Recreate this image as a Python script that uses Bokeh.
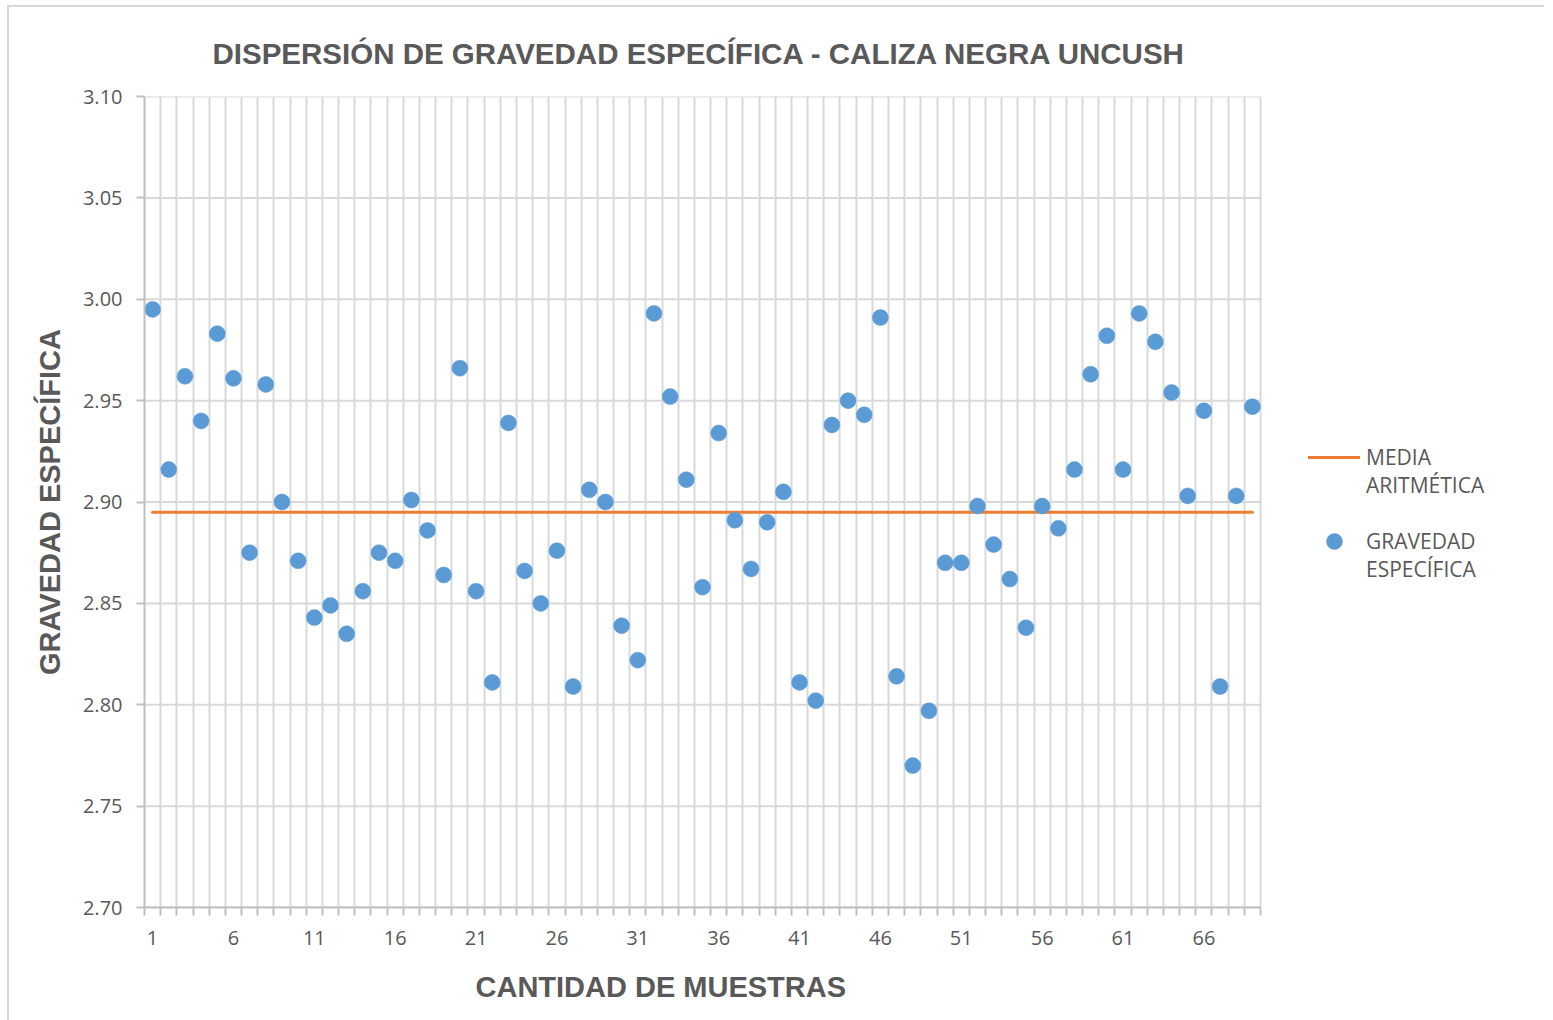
from bokeh.plotting import figure
from bokeh.models import (FixedTicker, Legend, LegendItem, Range1d, ColumnDataSource,
                          NumeralTickFormatter, Title)
from bokeh.embed import file_html
from bokeh.resources import INLINE

# ---- data ----
muestras = list(range(1, 70))
gravedad = [
    2.995, 2.916, 2.962, 2.940, 2.983, 2.961, 2.875, 2.958, 2.900, 2.871,
    2.843, 2.849, 2.835, 2.856, 2.875, 2.871, 2.901, 2.886, 2.864, 2.966,
    2.856, 2.811, 2.939, 2.866, 2.850, 2.876, 2.809, 2.906, 2.900, 2.839,
    2.822, 2.993, 2.952, 2.911, 2.858, 2.934, 2.891, 2.867, 2.890, 2.905,
    2.811, 2.802, 2.938, 2.950, 2.943, 2.991, 2.814, 2.770, 2.797, 2.870,
    2.870, 2.898, 2.879, 2.862, 2.838, 2.898, 2.887, 2.916, 2.963, 2.982,
    2.916, 2.993, 2.979, 2.954, 2.903, 2.945, 2.809, 2.903, 2.947,
]
media_aritmetica = 2.895
x_label_ticks = [1, 6, 11, 16, 21, 26, 31, 36, 41, 46, 51, 56, 61, 66]
y_ticks = [2.70, 2.75, 2.80, 2.85, 2.90, 2.95, 3.00, 3.05, 3.10]
legend_labels = ["MEDIA\nARITMÉTICA", "GRAVEDAD\nESPECÍFICA"]
x_title = "CANTIDAD DE MUESTRAS"
y_title = "GRAVEDAD ESPECÍFICA"
main_title = "DISPERSIÓN DE GRAVEDAD ESPECÍFICA - CALIZA NEGRA UNCUSH"

TEXT = "#595959"
GRID = "#d9d9d9"
AX = "#bfbfbf"

# layout: plotting area is 1116 px for the 69 samples; the frame continues to the
# right so that the legend can sit beside the data (grid/axis are bounded).
PLOT_W = 1116
FRAME_W = 1400
x_start = 0.5
x_stop = len(muestras) + 0.5
x_end = x_start + (x_stop - x_start) * FRAME_W / PLOT_W

p = figure(
    frame_width=FRAME_W, frame_height=811,
    x_range=Range1d(x_start, x_end),
    y_range=Range1d(y_ticks[0], y_ticks[-1]),
    output_backend="svg", toolbar_location=None,
    min_border_left=135, min_border_right=0, min_border_top=88, min_border_bottom=113,
)
p.styles = {"border-top": "2px solid #d9d9d9", "border-left": "2px solid #d9d9d9",
            "margin-left": "7px", "margin-top": "5px"}
p.outline_line_color = None

# title
p.title.text = main_title
p.title.align = "left"
p.title.offset = 68
p.title.text_font = "Liberation Sans"
p.title.text_font_size = "29.5px"
p.title.text_font_style = "bold"
p.title.text_color = TEXT
p.title.standoff = 54

# grids
boundaries = [m - 0.5 for m in muestras] + [x_stop]
p.xgrid.ticker = FixedTicker(ticks=boundaries)
p.xgrid.grid_line_color = GRID
p.xgrid.grid_line_width = 2
p.ygrid.visible = False
p.segment(x0=x_start, x1=x_stop, y0=y_ticks, y1=y_ticks,
          line_color=GRID, line_width=2, level="underlay")

# x axis
xa = p.xaxis[0]
xa.bounds = (x_start, x_stop)
xa.ticker = FixedTicker(ticks=x_label_ticks, minor_ticks=boundaries)
xa.major_tick_out = 0
xa.major_tick_in = 0
xa.minor_tick_out = 8
xa.minor_tick_in = 0
xa.minor_tick_line_color = AX
xa.minor_tick_line_width = 2
xa.axis_line_color = AX
xa.axis_line_width = 2
xa.major_label_standoff = 15
xa.major_label_text_font = "Open Sans"
xa.major_label_text_font_size = "20px"
xa.major_label_text_color = TEXT

# x axis title (as a below title so it can sit where the reference has it)
xt = Title(text=x_title, align="left", offset=331, standoff=42,
           text_font="Liberation Sans", text_font_size="29px",
           text_font_style="bold", text_color=TEXT)
p.add_layout(xt, "below")

# y axis
ya = p.yaxis[0]
ya.ticker = FixedTicker(ticks=y_ticks)
ya.formatter = NumeralTickFormatter(format="0.00")
ya.major_tick_out = 8
ya.major_tick_in = 0
ya.major_tick_line_color = AX
ya.major_tick_line_width = 2
ya.minor_tick_out = 0
ya.minor_tick_in = 0
ya.axis_line_color = AX
ya.axis_line_width = 2
ya.major_label_standoff = 14
ya.major_label_text_font = "Open Sans"
ya.major_label_text_font_size = "20px"
ya.major_label_text_color = TEXT
ya.axis_label = y_title
ya.axis_label_text_font = "Liberation Sans"
ya.axis_label_text_font_size = "29px"
ya.axis_label_text_font_style = "bold"
ya.axis_label_text_color = TEXT
ya.axis_label_standoff = 14

# mean line
line_r = p.line(x=[muestras[0], muestras[-1]], y=[media_aritmetica, media_aritmetica],
                line_color="#ED7D31", line_width=3, line_cap="round")

# points
src = ColumnDataSource(data=dict(x=muestras, y=gravedad))
pts = p.scatter(x="x", y="y", source=src, size=16, fill_color="#5B9BD5",
                line_color="#5B9BD5", line_width=0.5)

# legend: a leading blank line keeps the glyph level with the first text line
legend = Legend(items=[
    LegendItem(label="\n" + legend_labels[0], renderers=[line_r]),
    LegendItem(label="\n" + legend_labels[1], renderers=[pts]),
], location=(1164, 324))
legend.border_line_color = None
legend.background_fill_alpha = 0
legend.label_text_font = "Open Sans"
legend.label_text_font_size = "21px"
legend.label_text_color = TEXT
legend.glyph_width = 52
legend.glyph_height = 40
legend.label_standoff = 6
legend.spacing = 0
legend.padding = 0
legend.margin = 0
p.add_layout(legend, "center")

open("out.html", "w").write(file_html(p, INLINE))
